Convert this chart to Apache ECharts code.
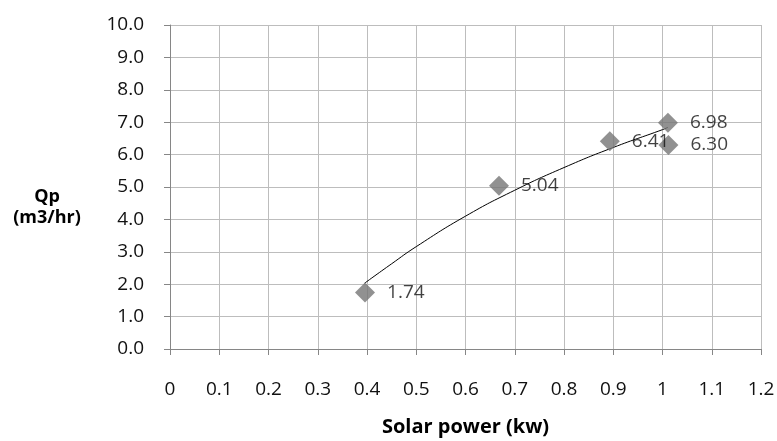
<!DOCTYPE html>
<html>
<head>
<meta charset="utf-8">
<script src="https://cdn.jsdelivr.net/npm/echarts@6/dist/echarts.min.js"></script>
<style>
html,body{margin:0;padding:0;background:#fff;}
#c{width:777px;height:441px;}
</style>
</head>
<body>
<div id="c"></div>
<script>
// Measured points
var solarPower = [0.396, 0.668, 0.893, 1.011, 1.012];
var flowQp = [1.74, 5.04, 6.41, 6.98, 6.30];
// Trend line
var trendX = [0.395, 0.45, 0.5, 0.6, 0.7, 0.8, 0.9, 1.0, 1.011];
var trendY = [2.03, 2.63, 3.16, 4.1, 4.9, 5.6, 6.22, 6.77, 6.84];
var xTitle = 'Solar power (kw)';
var yTitle = 'Qp\n(m3/hr)';

var FONT = 'Open Sans';
var pts = solarPower.map(function (x, i) { return [x, flowQp[i]]; });
var trend = trendX.map(function (x, i) { return [x, trendY[i]]; });

var chart = echarts.init(document.getElementById('c'), null, {renderer: 'canvas'});
chart.setOption({
  animation: false,
  backgroundColor: '#ffffff',
  grid: {left: 170, right: 16, top: 25, bottom: 92, containLabel: false, outerBoundsMode: 'none'},
  xAxis: {
    type: 'value', min: 0, max: 1.2, interval: 0.1,
    name: xTitle, nameLocation: 'middle', nameGap: 68,
    nameTextStyle: {fontFamily: FONT, fontWeight: 'bold', fontSize: 20, color: '#000'},
    axisLine: {show: true, onZero: false, lineStyle: {color: '#868686', width: 1}},
    axisTick: {show: true, length: 6, lineStyle: {color: '#868686'}},
    axisLabel: {fontFamily: FONT, fontSize: 19, color: '#111', margin: 31,
      formatter: function (v) { return String(Math.round(v * 10) / 10); }},
    splitLine: {show: true, lineStyle: {color: '#bdbdbd', width: 1}}
  },
  yAxis: {
    type: 'value', min: 0, max: 10, interval: 1,
    axisLine: {show: true, onZero: false, lineStyle: {color: '#868686', width: 1}},
    axisTick: {show: true, length: 6, lineStyle: {color: '#868686'}},
    axisLabel: {fontFamily: FONT, fontSize: 19, color: '#111', margin: 26,
      formatter: function (v) { return v.toFixed(1); }},
    splitLine: {show: true, lineStyle: {color: '#bdbdbd', width: 1}}
  },
  graphic: [{
    type: 'text', x: 47, y: 186,
    style: {text: yTitle, fontFamily: FONT, fontWeight: 'bold', fontSize: 18,
      fill: '#000', align: 'center', textAlign: 'center', lineHeight: 21}
  }],
  series: [{
    type: 'line', data: trend, smooth: true, showSymbol: false, symbol: 'none',
    lineStyle: {color: '#000', width: 1}, z: 2
  }, {
    type: 'scatter', data: pts, symbol: 'diamond', symbolSize: 20,
    itemStyle: {color: '#767676'}, z: 3,
    label: {show: true, position: 'right', distance: 12, fontFamily: FONT, fontSize: 19,
      color: '#111', formatter: function (p) { return p.value[1].toFixed(2); }}
  }]
});
</script>
</body>
</html>
